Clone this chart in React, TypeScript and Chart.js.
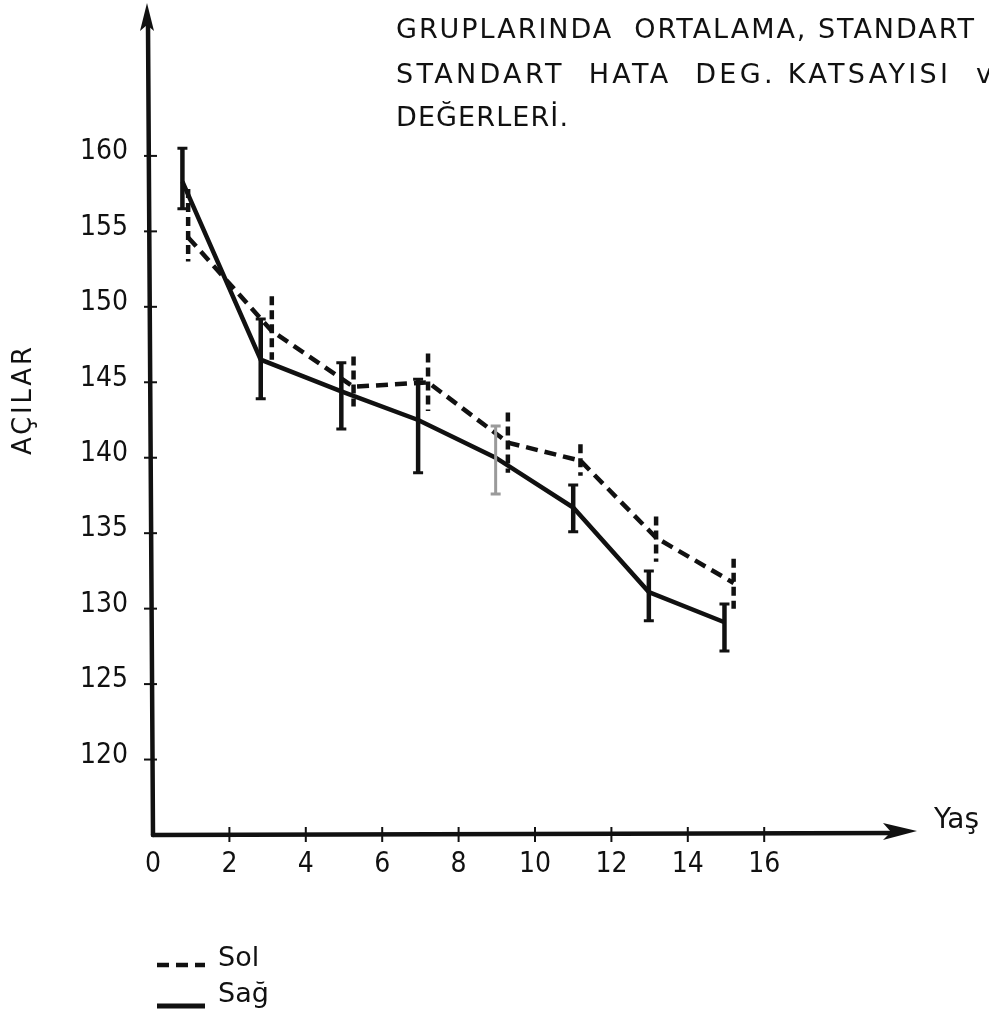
import { useEffect, useRef } from "react";
import { Chart, registerables } from "chart.js";

Chart.register(...registerables);

// ---- data ----
const xTickValues = [0, 2, 4, 6, 8, 10, 12, 14, 16];
const yTickValues = [120, 125, 130, 135, 140, 145, 150, 155, 160];
const seriesNames = ["Sol", "Sağ"];

// Sol (dashed)
const solX = [0.92, 3.11, 5.25, 7.2, 9.29, 11.19, 13.17, 15.2];
const solMean = [154.6, 148.4, 144.7, 145.0, 141.0, 139.8, 134.7, 131.7];
const solUpper = [157.8, 150.7, 146.7, 146.9, 143.0, 140.9, 136.1, 133.3];
const solLower = [153.0, 146.5, 143.4, 143.1, 139.0, 138.8, 133.1, 130.0];

// Sağ (solid)
const sagX = [0.77, 2.82, 4.93, 6.94, 8.97, 11.0, 12.98, 14.96];
const sagMean = [158.3, 146.5, 144.4, 142.5, 140.0, 136.7, 131.1, 129.1];
const sagUpper = [160.5, 149.2, 146.3, 145.2, 142.1, 138.2, 132.5, 130.3];
const sagLower = [156.5, 143.9, 141.9, 139.0, 137.6, 135.1, 129.2, 127.2];

const titleLines = [
  "GRUPLARINDA  ORTALAMA, STANDART",
  "STANDART  HATA  DEG. KATSAYISI",
  "DEĞERLERİ.",
];
const titleTail = "ve";
const yTitle = "AÇILAR";
const xTitle = "Yaş";

const INK = "#111";
const TICK_FONT = '"DejaVu Sans Condensed", "DejaVu Sans", sans-serif';
const TEXT_FONT = '"DejaVu Sans", sans-serif';

function fitText(ctx: CanvasRenderingContext2D, text: string, x: number, y: number, target: number) {
  const anyCtx = ctx as any;
  anyCtx.letterSpacing = "0px";
  const w = ctx.measureText(text).width;
  const sp = text.length > 1 ? (target - w) / (text.length - 1) : 0;
  if ("letterSpacing" in anyCtx) {
    anyCtx.letterSpacing = sp + "px";
    ctx.fillText(text, x, y);
    anyCtx.letterSpacing = "0px";
  } else {
    let cx = x;
    for (const ch of text) {
      ctx.fillText(ch, cx, y);
      cx += ctx.measureText(ch).width + sp;
    }
  }
}

const customDraw = {
  id: "customDraw",
  beforeDraw(chart: any) {
    const ctx = chart.ctx;
    ctx.save();
    ctx.fillStyle = "#fff";
    ctx.fillRect(0, 0, chart.width, chart.height);
    ctx.restore();
  },
  afterDraw(chart: any) {
    const ctx: CanvasRenderingContext2D = chart.ctx;
    const ca = chart.chartArea;
    const xs = chart.scales.x;
    const ys = chart.scales.y;
    ctx.save();
    ctx.strokeStyle = INK;
    ctx.fillStyle = INK;
    ctx.lineCap = "round";

    // axes
    ctx.lineWidth = 4.5;
    ctx.beginPath();
    ctx.moveTo(ca.left, ca.bottom);
    ctx.lineTo(ca.left - 5, ca.top + 20);
    ctx.stroke();
    ctx.beginPath();
    ctx.moveTo(ca.left - 6, ca.top - 2);
    ctx.lineTo(ca.left - 13, ca.top + 26);
    ctx.lineTo(ca.left - 6, ca.top + 20);
    ctx.lineTo(ca.left + 1, ca.top + 26);
    ctx.closePath();
    ctx.fill();

    ctx.beginPath();
    ctx.moveTo(ca.left, ca.bottom);
    ctx.lineTo(ca.right - 20, ca.bottom - 2);
    ctx.stroke();
    ctx.beginPath();
    ctx.moveTo(ca.right, ca.bottom - 4);
    ctx.lineTo(ca.right - 34, ca.bottom - 12);
    ctx.lineTo(ca.right - 26, ca.bottom - 3);
    ctx.lineTo(ca.right - 34, ca.bottom + 5);
    ctx.closePath();
    ctx.fill();

    // tick marks
    ctx.lineWidth = 2;
    ctx.lineCap = "butt";
    yTickValues.forEach((v) => {
      const py = ys.getPixelForValue(v);
      ctx.beginPath();
      ctx.moveTo(ca.left - 9, py);
      ctx.lineTo(ca.left + 4, py);
      ctx.stroke();
    });
    xTickValues.forEach((v) => {
      if (v === 0) return;
      const px = xs.getPixelForValue(v);
      ctx.beginPath();
      ctx.moveTo(px, ca.bottom - 8);
      ctx.lineTo(px, ca.bottom + 7);
      ctx.stroke();
    });

    // error bars: Sol (dashed)
    ctx.lineWidth = 4.5;
    ctx.setLineDash([9, 5]);
    solX.forEach((x, i) => {
      const px = xs.getPixelForValue(x);
      ctx.beginPath();
      ctx.moveTo(px, ys.getPixelForValue(solUpper[i]));
      ctx.lineTo(px, ys.getPixelForValue(solLower[i]));
      ctx.stroke();
    });
    ctx.setLineDash([]);

    // error bars: Sağ (solid, with caps)
    sagX.forEach((x, i) => {
      const px = xs.getPixelForValue(x);
      const pu = ys.getPixelForValue(sagUpper[i]);
      const pl = ys.getPixelForValue(sagLower[i]);
      const faded = i === 4;
      ctx.strokeStyle = faded ? "#9a9a9a" : INK;
      ctx.lineWidth = faded ? 3 : 4.5;
      ctx.beginPath();
      ctx.moveTo(px, pu);
      ctx.lineTo(px, pl);
      ctx.stroke();
      ctx.lineWidth = 3;
      ctx.beginPath();
      ctx.moveTo(px - 5, pu);
      ctx.lineTo(px + 5, pu);
      ctx.moveTo(px - 5, pl);
      ctx.lineTo(px + 5, pl);
      ctx.stroke();
    });
    ctx.strokeStyle = INK;

    // title
    ctx.fillStyle = INK;
    ctx.font = `27px ${TEXT_FONT}`;
    ctx.textBaseline = "alphabetic";
    ctx.textAlign = "left";
    fitText(ctx, titleLines[0], 396, 38, 578);
    fitText(ctx, titleLines[1], 396, 83, 552);
    ctx.fillText(titleTail, 976, 83);
    fitText(ctx, titleLines[2], 396, 126, 172);

    // y title
    ctx.save();
    ctx.translate(31, 400);
    ctx.rotate(-Math.PI / 2);
    ctx.font = `26px ${TEXT_FONT}`;
    ctx.textAlign = "left";
    ctx.textBaseline = "alphabetic";
    fitText(ctx, yTitle, -55, 0, 108);
    ctx.restore();

    // x title
    ctx.font = `28px ${TEXT_FONT}`;
    ctx.textAlign = "left";
    ctx.fillText(xTitle, 934, 828);

    // legend
    const datasets = chart.data.datasets;
    const legendY = [965, 1006];
    const textY = [966, 1002];
    datasets.forEach((ds: any, i: number) => {
      ctx.strokeStyle = INK;
      ctx.lineWidth = i === 0 ? 4.5 : 5;
      ctx.setLineDash(ds.borderDash || []);
      ctx.beginPath();
      ctx.moveTo(157, legendY[i]);
      ctx.lineTo(205, legendY[i]);
      ctx.stroke();
      ctx.setLineDash([]);
      ctx.font = `27px ${TEXT_FONT}`;
      ctx.fillText(ds.label, 218, textY[i]);
    });

    ctx.restore();
  },
};

export default function App() {
  const ref = useRef<HTMLCanvasElement>(null);
  useEffect(() => {
    const chart = new Chart(ref.current!, {
      type: "line",
      data: {
        datasets: [
          {
            label: seriesNames[0],
            data: solX.map((x, i) => ({ x, y: solMean[i] })),
            borderColor: INK,
            borderWidth: 4.5,
            borderDash: [12, 7],
            pointRadius: 0,
            tension: 0,
            fill: false,
          },
          {
            label: seriesNames[1],
            data: sagX.map((x, i) => ({ x, y: sagMean[i] })),
            borderColor: INK,
            borderWidth: 4.5,
            pointRadius: 0,
            tension: 0,
            fill: false,
          },
        ],
      },
      options: {
        responsive: false,
        animation: false,
        devicePixelRatio: 1,
        layout: { padding: { top: 5, right: 72, left: 0, bottom: 0 } },
        plugins: {
          legend: { display: false },
          tooltip: { enabled: false },
          title: { display: false },
        },
        scales: {
          x: {
            type: "linear",
            min: 0,
            max: 20,
            afterBuildTicks: (s: any) => {
              s.ticks = xTickValues.map((v) => ({ value: v }));
            },
            afterFit: (s: any) => {
              s.height = 179;
              s.paddingLeft = 0;
              s.paddingRight = 0;
            },
            grid: { display: false },
            border: { display: false },
            ticks: {
              font: { family: TICK_FONT, size: 28 },
              color: INK,
              padding: 5,
              maxRotation: 0,
              autoSkip: false,
            },
          },
          y: {
            type: "linear",
            min: 115,
            max: 170,
            afterBuildTicks: (s: any) => {
              s.ticks = yTickValues.map((v) => ({ value: v }));
            },
            afterFit: (s: any) => {
              s.width = 153;
              s.paddingTop = 0;
              s.paddingBottom = 0;
            },
            grid: { display: false },
            border: { display: false },
            ticks: {
              font: { family: TICK_FONT, size: 28 },
              color: INK,
              padding: 17,
              labelOffset: -4,
              autoSkip: false,
            },
          },
        },
      },
      plugins: [customDraw],
    } as any);
    return () => chart.destroy();
  }, []);
  return (
    <div style={{ position: "fixed", left: 0, top: 0, width: 989, height: 1014, background: "#fff" }}>
      <canvas ref={ref} width={989} height={1014} style={{ display: "block", width: 989, height: 1014 }} />
    </div>
  );
}
